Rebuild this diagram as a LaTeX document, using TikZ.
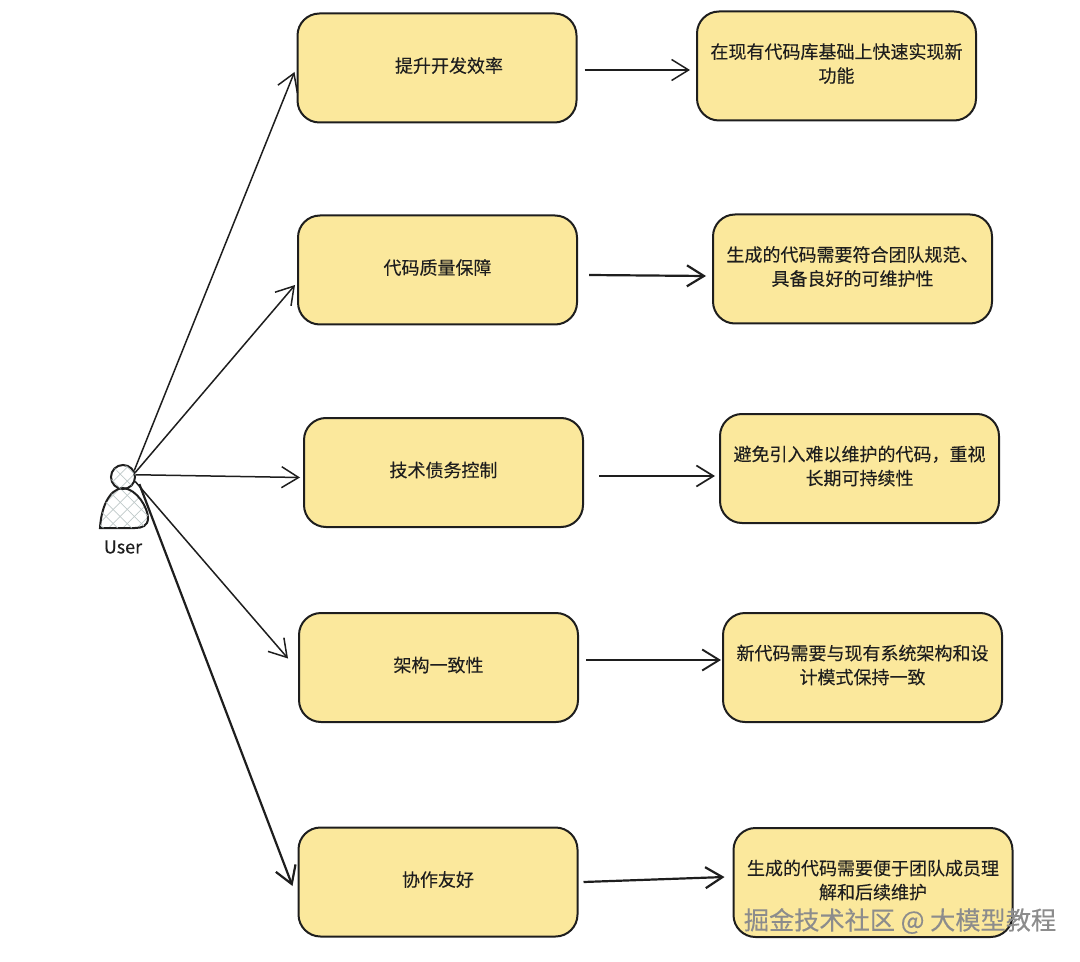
\documentclass[tikz,border=0pt]{standalone}
\usepackage{fontspec}
\setmainfont{Noto Sans CJK SC}[UprightFeatures={FakeBold=0.2}]
\usetikzlibrary{arrows.meta,patterns.meta}
\definecolor{sketchink}{HTML}{1E1E1E}
\definecolor{sketchfill}{HTML}{FBE89C}
\definecolor{sketchhatch}{HTML}{BFC9C9}
\definecolor{sketchmark}{HTML}{8C8C8C}
\tikzset{
  sketchbox/.style={draw=sketchink, fill=sketchfill, rounded corners=11pt,
    line width=1pt, minimum width=139.5pt, minimum height=54.5pt,
    font=\fontsize{9pt}{12pt}\selectfont, text=sketchink, align=center,
    inner sep=0pt, execute at end node={\rule[-3.2pt]{0pt}{0pt}}},
  thinflow/.style={-{Straight Barb[length=8.5pt,width=10.5pt]}, draw=sketchink, line width=.75pt},
  thickflow/.style={-{Straight Barb[length=8.5pt,width=10.5pt]}, draw=sketchink, line width=1.1pt},
  hatched/.style={draw=sketchink, line width=1pt,
    pattern={Lines[angle=45,distance=5pt,line width=.35pt]}, pattern color=sketchhatch,
    postaction={pattern={Lines[angle=-45,distance=5pt,line width=.35pt]}, pattern color=sketchhatch}}
}
\begin{document}
\begin{tikzpicture}[x=.5pt,y=-.5pt]
  \useasboundingbox (0,0) rectangle (1080,962);

  % user figure
  \draw[hatched] (100,528) .. controls (101,510) and (108,489) .. (123,488)
    .. controls (137,489) and (148,508) .. (148,518)
    .. controls (148,526) and (142,528) .. (135,528) -- cycle;
  \node[circle, hatched, minimum size=12pt, inner sep=0pt] (userhead) at (123,477) {};
  \node[font=\fontsize{9pt}{11pt}\selectfont, text=sketchink] (userlabel) at (123,547) {User};

  % goals
  \node[sketchbox] (goalone) at (437,68) {\hspace*{12pt}提升开发效率};
  \node[sketchbox] (goaltwo) at (437.5,270) {代码质量保障};
  \node[sketchbox] (goalthree) at (443.5,472.5) {技术债务控制};
  \node[sketchbox] (goalfour) at (438.5,667.5) {架构一致性};
  \node[sketchbox] (goalfive) at (438,882) {协作友好};

  % details
  \node[sketchbox] (detailone) at (836.5,66) {在现有代码库基础上快速实现新\\功能};
  \node[sketchbox] (detailtwo) at (852.5,269) {生成的代码需要符合团队规范、\\具备良好的可维护性};
  \node[sketchbox] (detailthree) at (859.5,468.5) {避免引入难以维护的代码，重视\\长期可持续性};
  \node[sketchbox] (detailfour) at (862.5,667.5) {新代码需要与现有系统架构和设\\计模式保持一致};
  \node[sketchbox] (detailfive) at (873,882.5) {生成的代码需要便于团队成员理\\解和后续维护};

  % user to goals
  \draw[thinflow] (userhead.30) -- ([shift={(-2,4)}]goalone.west);
  \draw[thinflow] (userhead.20) -- ([shift={(-2,15)}]goaltwo.west);
  \draw[thinflow] (userhead.10) -- ([shift={(-3,5)}]goalthree.west);
  \draw[thinflow] (userhead.-20) -- ([shift={(-10,-9)}]goalfour.west);
  \draw[thickflow, shorten <=5pt] (userhead.10) -- ([shift={(-5,4)}]goalfive.west);

  % goals to details
  \draw[thinflow] ([shift={(7,2)}]goalone.east) -- ([shift={(-6,4)}]detailone.west);
  \draw[thickflow] ([shift={(11,5)}]goaltwo.east) -- ([shift={(-6,7)}]detailtwo.west);
  \draw[thinflow, line width=.85pt] ([shift={(15,3.5)}]goalthree.east) -- ([shift={(-4,7.5)}]detailthree.west);
  \draw[thinflow, line width=.95pt] ([shift={(7,-7.5)}]goalfour.east) -- ([shift={(-1,-7.5)}]detailfour.west);
  \draw[thickflow] ([shift={(5,0)}]goalfive.east) -- ([shift={(-8,-5.5)}]detailfive.west);

  % watermark
  \node[font=\fontsize{12.6pt}{14pt}\selectfont, text=sketchmark] (watermark) at (900,921)
    {掘金技术社区 @ 大模型教程};
\end{tikzpicture}
\end{document}
